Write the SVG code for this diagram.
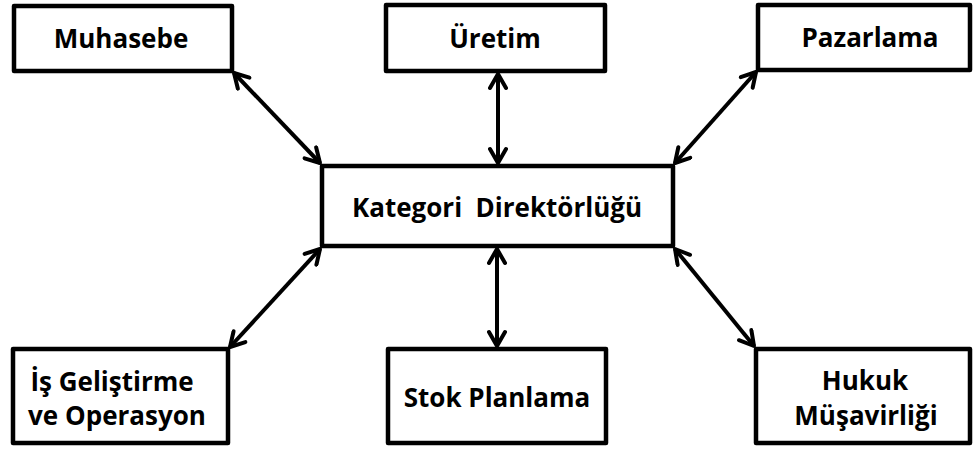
<svg xmlns="http://www.w3.org/2000/svg" width="973" height="449" viewBox="0 0 973 449">
<defs>
<style>
.box{fill:#fff;stroke:#000;stroke-width:4.5;stroke-linejoin:round}
.t{font-family:"Open Sans","Liberation Sans",sans-serif;font-weight:700;font-size:26px;fill:#000;text-anchor:middle}
.c{stroke:#000;stroke-width:4;fill:none;marker-start:url(#ah);marker-end:url(#ah)}
</style>
<marker id="ah" viewBox="0 0 20 20" refX="17" refY="10" markerWidth="20" markerHeight="20" markerUnits="userSpaceOnUse" orient="auto-start-reverse">
<path d="M3,2 L17,10 L3,18" fill="none" stroke="#000" stroke-width="4" stroke-linecap="round" stroke-linejoin="round"/>
</marker>
</defs>
<rect width="973" height="449" fill="#fff"/>
<g id="connectors">
<line class="c" x1="234" y1="73" x2="320" y2="163"/>
<line class="c" x1="498" y1="74" x2="498" y2="163"/>
<line class="c" x1="756" y1="72" x2="675" y2="163"/>
<line class="c" x1="320" y1="249" x2="230" y2="347"/>
<line class="c" x1="497" y1="249" x2="497" y2="346"/>
<line class="c" x1="675" y1="249" x2="754" y2="346"/>
</g>
<g id="muhasebe">
<rect class="box" x="14" y="6" width="218" height="65"/>
<text class="t" x="121" y="48">Muhasebe</text>
</g>
<g id="uretim">
<rect class="box" x="386" y="5" width="219" height="66"/>
<text class="t" x="495" y="48">Üretim</text>
</g>
<g id="pazarlama">
<rect class="box" x="758" y="5" width="212" height="65"/>
<text class="t" x="870" y="47">Pazarlama</text>
</g>
<g id="kategori">
<rect class="box" x="322" y="166" width="351" height="80"/>
<text class="t" x="497" y="217" xml:space="preserve">Kategori  Direktörlüğü</text>
</g>
<g id="is-gelistirme">
<rect class="box" x="13" y="349" width="215" height="94"/>
<text class="t" x="112" y="391">İş Geliştirme</text>
<text class="t" x="117" y="425">ve Operasyon</text>
</g>
<g id="stok">
<rect class="box" x="388" y="349" width="218" height="94"/>
<text class="t" x="497" y="407">Stok Planlama</text>
</g>
<g id="hukuk">
<rect class="box" x="756" y="349" width="214" height="94"/>
<text class="t" x="865" y="390">Hukuk</text>
<text class="t" x="866" y="425">Müşavirliği</text>
</g>
</svg>
